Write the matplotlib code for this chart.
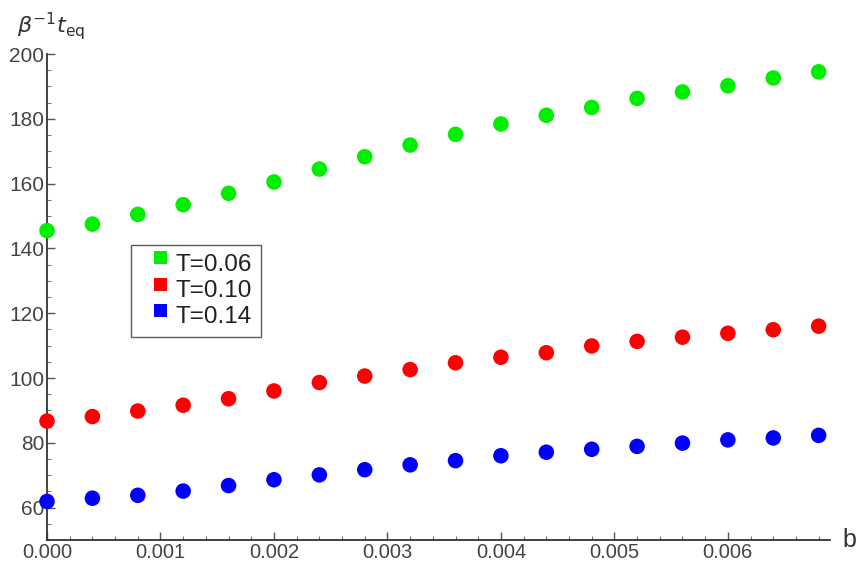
import numpy as np
import matplotlib.pyplot as plt
from matplotlib.markers import MarkerStyle
from matplotlib.ticker import MultipleLocator, FormatStrFormatter

plt.rcParams['font.family'] = ['Liberation Sans', 'DejaVu Sans']

# data
b = [0.0000, 0.0004, 0.0008, 0.0012, 0.0016, 0.0020, 0.0024, 0.0028, 0.0032,
     0.0036, 0.0040, 0.0044, 0.0048, 0.0052, 0.0056, 0.0060, 0.0064, 0.0068]
t_006 = [145.5, 147.5, 150.5, 153.5, 157.0, 160.5, 164.5, 168.3, 171.9,
         175.2, 178.4, 181.1, 183.5, 186.3, 188.3, 190.2, 192.6, 194.5]
t_010 = [86.7, 88.1, 89.8, 91.6, 93.6, 96.0, 98.6, 100.6, 102.6,
         104.7, 106.4, 107.8, 109.9, 111.3, 112.6, 113.8, 114.9, 116.0]
t_014 = [61.9, 62.9, 63.8, 65.1, 66.8, 68.6, 70.1, 71.7, 73.2,
         74.5, 76.0, 77.1, 78.0, 78.9, 79.9, 80.9, 81.5, 82.3]
labels = ["T=0.06", "T=0.10", "T=0.14"]
colors = ["#00ee00", "#ff0000", "#0000ff"]

fig = plt.figure(figsize=(8.57, 5.63), dpi=100)
ax = fig.add_axes([47 / 857, 1 - 540 / 563, (830 - 47) / 857, (540 - 54) / 563])

for ys, lab, c in zip([t_006, t_010, t_014], labels, colors):
    ax.scatter(b, ys, s=125, color=c, edgecolors='none', label=lab,
               clip_on=False, zorder=3)

ax.set_xlim(0, 0.0069)
ax.set_ylim(50, 200)

ax.xaxis.set_major_locator(MultipleLocator(0.001))
ax.xaxis.set_minor_locator(MultipleLocator(0.0002))
ax.xaxis.set_major_formatter(FormatStrFormatter('%.3f'))
ax.yaxis.set_major_locator(MultipleLocator(20))
ax.yaxis.set_minor_locator(MultipleLocator(5))

for side in ['top', 'right']:
    ax.spines[side].set_visible(False)
for side in ['left', 'bottom']:
    ax.spines[side].set_linewidth(1.3)
    ax.spines[side].set_color('#333333')

ax.tick_params(which='major', direction='in', length=6, width=1, color='#555555',
               labelsize=15, labelcolor='#444444')
ax.tick_params(axis='x', which='major', pad=2, labelsize=14.5)
ax.tick_params(axis='y', which='major', pad=2)
ax.tick_params(which='minor', direction='in', length=3, width=0.8, color='#777777')

fig.text(17 / 857, 1 - 33 / 563, r'$\beta^{-1}t_{\mathrm{eq}}$',
         fontsize=16, color='#333333', ha='left', va='baseline')
fig.text(842 / 857, 1 - 540 / 563, 'b', fontsize=18,
         color='#333333', ha='left', va='center')

leg = ax.legend(loc='upper left', bbox_to_anchor=(84 / 783, 1 - (245 - 54) / 486),
                handletextpad=0.3, fontsize=17.5, frameon=True, handlelength=1.2,
                fancybox=False, borderpad=0.35, labelspacing=0.18, borderaxespad=0)
leg.get_frame().set_edgecolor('#333333')
leg.get_frame().set_linewidth(1.0)
for h in leg.legend_handles:
    h.set_sizes([85])
    h.set_paths([MarkerStyle('s').get_path()])
for t in leg.get_texts():
    t.set_color('#222222')

fig.savefig('out.png', dpi=100)
